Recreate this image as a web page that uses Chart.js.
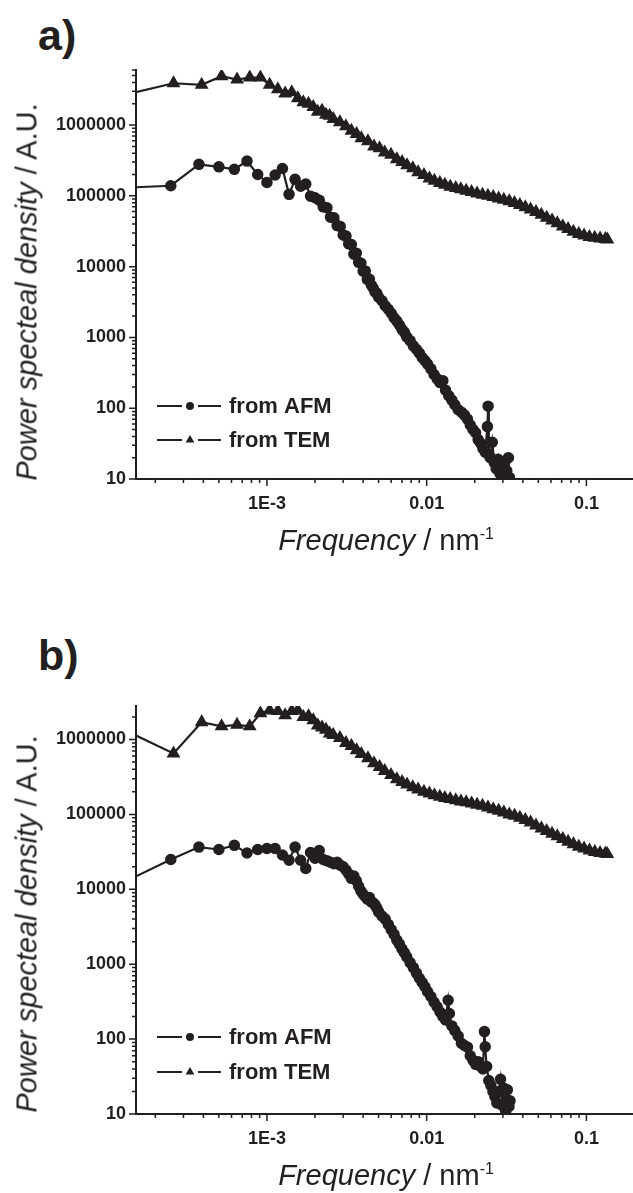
<!DOCTYPE html>
<html>
<head>
<meta charset="utf-8">
<title>Power spectral density from AFM and TEM</title>
<script src="https://cdn.jsdelivr.net/npm/chart.js"></script>
<style>
  body { margin: 0; background: #fff; overflow: hidden; font-family: 'Liberation Sans', Arial, sans-serif; color: #231f20; }
  #page { position: relative; width: 633px; height: 1193px; overflow: hidden; }
  canvas { position: absolute; left: 0; }
  .panel { position: absolute; font-weight: bold; font-size: 43px; line-height: 43px; }
  .ytitle { position: absolute; font-size: 29px; white-space: nowrap; transform: translate(-50%, -50%) rotate(-90deg); }
  .xtitle { position: absolute; font-size: 29px; white-space: nowrap; transform: translate(-50%, -50%); }
  .xtitle sup { font-size: 16px; }
</style>
</head>
<body>
<div id="page">
  <div class="panel" style="left:38px;top:14px;">a)</div>
  <canvas id="chartA" width="640" height="590" style="top:0;"></canvas>
  <div class="ytitle" style="left:27px;top:292px;"><i>Power specteal density</i> / A.U.</div>
  <div class="xtitle" style="left:386px;top:540px;"><i>Frequency</i> / nm<sup>-1</sup></div>

  <div class="panel" style="left:38px;top:634px;">b)</div>
  <canvas id="chartB" width="640" height="593" style="top:600px;"></canvas>
  <div class="ytitle" style="left:27px;top:924px;"><i>Power specteal density</i> / A.U.</div>
  <div class="xtitle" style="left:386px;top:1175px;"><i>Frequency</i> / nm<sup>-1</sup></div>
</div>

<script>
const ink = '#231f20';

// tick labels
const xTickValues = [1e-3, 0.01, 0.1];
const xTickText = ['1E-3', '0.01', '0.1'];
const yTickValues = [10, 100, 1000, 10000, 100000, 1000000];
const yTickText = ['10', '100', '1000', '10000', '100000', '1000000'];

// TEM frequencies (nm^-1), same for both panels
const temFreq = [
  1.3e-4, 2.6e-4, 3.9e-4, 5.2e-4, 6.5e-4, 7.8e-4, 9.1e-4, 1.04e-3, 1.17e-3, 1.30e-3,
  1.43e-3, 1.56e-3, 1.69e-3, 1.82e-3, 1.95e-3, 2.08e-3, 2.21e-3, 2.34e-3, 2.47e-3, 2.60e-3,
  2.86e-3, 3.12e-3, 3.38e-3, 3.64e-3, 3.90e-3, 4.29e-3, 4.68e-3, 5.07e-3, 5.46e-3, 5.98e-3,
  6.50e-3, 7.02e-3, 7.54e-3, 8.19e-3, 8.84e-3, 9.62e-3, 1.040e-2, 1.118e-2, 1.209e-2, 1.300e-2,
  1.404e-2, 1.521e-2, 1.638e-2, 1.768e-2, 1.911e-2, 2.067e-2, 2.236e-2, 2.418e-2, 2.613e-2, 2.821e-2,
  3.042e-2, 3.289e-2, 3.549e-2, 3.835e-2, 4.147e-2, 4.472e-2, 4.836e-2, 5.226e-2, 5.642e-2, 6.097e-2,
  6.578e-2, 7.111e-2, 7.683e-2, 8.294e-2, 8.957e-2, 9.672e-2, 0.1045, 0.1128, 0.1218, 0.1316, 0.1352
];

// panel a
const temPsdA = [
  2.7e6, 3.9e6, 3.7e6, 4.9e6, 4.4e6, 4.7e6, 4.7e6, 3.7e6, 3.2e6, 2.8e6,
  2.9e6, 2.4e6, 2.1e6, 2.0e6, 1.8e6, 1.54e6, 1.6e6, 1.4e6, 1.35e6, 1.22e6,
  1.1e6, 9.6e5, 8.3e5, 7.5e5, 6.5e5, 5.9e5, 5.0e5, 4.7e5, 4.1e5, 3.8e5,
  3.3e5, 3.0e5, 2.7e5, 2.45e5, 2.15e5, 1.97e5, 1.76e5, 1.63e5, 1.52e5, 1.43e5,
  1.35e5, 1.29e5, 1.24e5, 1.18e5, 1.13e5, 1.08e5, 1.04e5, 1.0e5, 9.6e4, 9.2e4,
  8.8e4, 8.4e4, 7.9e4, 7.4e4, 6.9e4, 6.4e4, 5.9e4, 5.4e4, 4.9e4, 4.5e4,
  4.1e4, 3.7e4, 3.4e4, 3.1e4, 2.9e4, 2.75e4, 2.62e4, 2.55e4, 2.5e4, 2.45e4, 2.42e4
];

const afmFreqA = [
  1.25e-4, 2.5e-4, 3.75e-4, 5.0e-4, 6.25e-4, 7.5e-4, 8.75e-4, 1.0e-3, 1.125e-3, 1.25e-3,
  1.375e-3, 1.5e-3, 1.625e-3, 1.75e-3, 1.875e-3, 2.0e-3, 2.125e-3, 2.25e-3, 2.375e-3, 2.5e-3,
  2.625e-3, 2.75e-3, 2.875e-3, 3.0e-3, 3.125e-3, 3.25e-3, 3.375e-3, 3.5e-3, 3.625e-3, 3.75e-3,
  3.875e-3, 4.0e-3, 4.125e-3, 4.25e-3, 4.375e-3, 4.5e-3, 4.625e-3, 4.75e-3, 4.875e-3, 5.0e-3,
  5.25e-3, 5.5e-3, 5.75e-3, 6.0e-3, 6.25e-3, 6.5e-3, 6.75e-3, 7.0e-3, 7.25e-3, 7.5e-3,
  7.875e-3, 8.25e-3, 8.625e-3, 9.0e-3, 9.375e-3, 9.75e-3, 1.0125e-2, 1.0625e-2, 1.1125e-2, 1.1625e-2,
  1.2125e-2, 1.2625e-2, 1.3125e-2, 1.375e-2, 1.4375e-2, 1.5e-2, 1.575e-2, 1.65e-2, 1.725e-2, 1.8e-2,
  1.875e-2, 1.95e-2, 2.025e-2, 2.1e-2, 2.175e-2, 2.25e-2, 2.325e-2, 2.4e-2, 2.425e-2, 2.45e-2,
  2.5e-2, 2.575e-2, 2.65e-2, 2.725e-2, 2.8e-2, 2.875e-2, 2.95e-2, 3.025e-2, 3.1e-2, 3.175e-2,
  3.25e-2, 3.3e-2
];
const afmPsdA = [
  1.3e5, 1.39e5, 2.79e5, 2.57e5, 2.37e5, 3.1e5, 2.0e5, 1.55e5, 1.97e5, 2.44e5,
  1.05e5, 1.71e5, 1.37e5, 1.47e5, 9.9e4, 9.4e4, 8.7e4, 7.0e4, 6.8e4, 5.0e4,
  4.9e4, 3.8e4, 3.7e4, 2.8e4, 2.7e4, 2.1e4, 2.05e4, 1.5e4, 1.55e4, 1.15e4,
  1.12e4, 8.6e3, 8.7e3, 6.6e3, 6.7e3, 5.5e3, 5.0e3, 4.4e3, 4.2e3, 3.7e3,
  3.3e3, 2.8e3, 2.5e3, 2.2e3, 1.9e3, 1.7e3, 1.5e3, 1.3e3, 1.18e3, 1.02e3,
  900, 760, 680, 600, 520, 470, 420, 360, 300, 260,
  230, 245, 180, 150, 130, 112, 95, 88, 80, 70,
  58, 50, 45, 36, 32, 27, 24, 55, 107, 22,
  20, 33, 17, 14, 19, 12, 16, 11, 18, 13,
  20, 10.5
];

// panel b
const temPsdB = [
  1.32e6, 6.5e5, 1.7e6, 1.5e6, 1.57e6, 1.5e6, 2.24e6, 2.44e6, 2.4e6, 2.1e6,
  2.4e6, 2.44e6, 2.0e6, 2.05e6, 1.8e6, 1.54e6, 1.45e6, 1.35e6, 1.2e6, 1.15e6,
  1.05e6, 9.0e5, 8.2e5, 7.2e5, 6.4e5, 5.6e5, 4.8e5, 4.3e5, 3.8e5, 3.35e5,
  2.95e5, 2.7e5, 2.5e5, 2.3e5, 2.15e5, 2.0e5, 1.9e5, 1.8e5, 1.72e5, 1.65e5,
  1.6e5, 1.54e5, 1.49e5, 1.45e5, 1.4e5, 1.35e5, 1.3e5, 1.24e5, 1.17e5, 1.12e5,
  1.06e5, 1.0e5, 9.6e4, 9.0e4, 8.4e4, 7.8e4, 7.1e4, 6.5e4, 6.0e4, 5.5e4,
  5.1e4, 4.7e4, 4.3e4, 4.0e4, 3.7e4, 3.5e4, 3.3e4, 3.15e4, 3.05e4, 3.0e4, 2.95e4
];

const afmFreqB = [
  1.25e-4, 2.5e-4, 3.75e-4, 5.0e-4, 6.25e-4, 7.5e-4, 8.75e-4, 1.0e-3, 1.125e-3, 1.25e-3,
  1.375e-3, 1.5e-3, 1.625e-3, 1.75e-3, 1.875e-3, 2.0e-3, 2.125e-3, 2.25e-3, 2.375e-3, 2.5e-3,
  2.625e-3, 2.75e-3, 2.875e-3, 3.0e-3, 3.125e-3, 3.25e-3, 3.375e-3, 3.5e-3, 3.625e-3, 3.75e-3,
  3.875e-3, 4.0e-3, 4.125e-3, 4.25e-3, 4.375e-3, 4.5e-3, 4.625e-3, 4.75e-3, 4.875e-3, 5.0e-3,
  5.25e-3, 5.5e-3, 5.75e-3, 6.0e-3, 6.25e-3, 6.5e-3, 6.75e-3, 7.0e-3, 7.25e-3, 7.5e-3,
  7.875e-3, 8.25e-3, 8.625e-3, 9.0e-3, 9.375e-3, 9.75e-3, 1.0125e-2, 1.0625e-2, 1.1125e-2, 1.1625e-2,
  1.2125e-2, 1.2625e-2, 1.3125e-2, 1.3625e-2, 1.3875e-2, 1.4375e-2, 1.5e-2, 1.575e-2, 1.65e-2, 1.725e-2,
  1.8e-2, 1.875e-2, 1.95e-2, 2.025e-2, 2.1e-2, 2.175e-2, 2.25e-2, 2.3e-2, 2.325e-2, 2.375e-2,
  2.45e-2, 2.525e-2, 2.6e-2, 2.675e-2, 2.75e-2, 2.825e-2, 2.9e-2, 2.975e-2, 3.05e-2, 3.125e-2,
  3.2e-2, 3.275e-2, 3.325e-2
];
const afmPsdB = [
  1.22e4, 2.5e4, 3.66e4, 3.4e4, 3.86e4, 3.05e4, 3.4e4, 3.5e4, 3.5e4, 2.87e4,
  2.44e4, 3.66e4, 2.44e4, 1.9e4, 3.1e4, 2.6e4, 3.3e4, 2.5e4, 2.4e4, 2.3e4,
  2.2e4, 2.3e4, 2.1e4, 2.0e4, 1.8e4, 1.6e4, 1.4e4, 1.5e4, 1.3e4, 1.1e4,
  9.5e3, 8.6e3, 8.0e3, 7.4e3, 7.8e3, 6.8e3, 6.6e3, 6.2e3, 5.6e3, 5.0e3,
  4.4e3, 4.0e3, 3.4e3, 2.9e3, 2.5e3, 2.1e3, 1.85e3, 1.6e3, 1.42e3, 1.25e3,
  1.05e3, 900, 760, 650, 570, 500, 430, 370, 310, 270,
  230, 200, 180, 330, 220, 150, 130, 110, 88, 82,
  78, 60, 52, 46, 50, 43, 40, 126, 79, 43,
  28, 24, 20, 17, 14, 20, 29, 13, 22, 11,
  21, 12.6, 15
];

function toPoints(xs, ys) {
  return xs.map((x, i) => ({ x, y: ys[i] }));
}

function logTicks(min, max) {
  const out = [];
  for (let e = Math.floor(Math.log10(min)); e <= Math.ceil(Math.log10(max)); e++) {
    for (let m = 1; m < 10; m++) {
      const v = m * Math.pow(10, e);
      if (v >= min * 0.9999 && v <= max * 1.0001) out.push({ value: v, major: m === 1 });
    }
  }
  return out;
}

function labelFor(values, texts) {
  return (v) => {
    const i = values.findIndex(t => Math.abs(t - v) < t * 1e-6);
    return i >= 0 ? texts[i] : '';
  };
}

// short minor ticks, longer decade ticks, both outside the axes
const tickMarks = {
  id: 'tickMarks',
  afterDraw(chart) {
    const { ctx, chartArea, scales } = chart;
    ctx.save();
    ctx.strokeStyle = ink;
    ctx.lineWidth = 1.5;
    ctx.beginPath();
    for (const t of scales.x.ticks) {
      const p = scales.x.getPixelForValue(t.value);
      const len = t.major ? 7 : 4;
      ctx.moveTo(p, chartArea.bottom);
      ctx.lineTo(p, chartArea.bottom + len);
    }
    for (const t of scales.y.ticks) {
      const p = scales.y.getPixelForValue(t.value);
      const len = t.major ? 7 : 4;
      ctx.moveTo(chartArea.left - len, p);
      ctx.lineTo(chartArea.left, p);
    }
    ctx.stroke();
    ctx.restore();
  }
};

// legend drawn as  —●— label
const lineLegend = {
  id: 'lineLegend',
  afterDraw(chart, args, opts) {
    const ctx = chart.ctx;
    chart.data.datasets.forEach((ds, i) => {
      const y = opts.rows[i];
      const x = opts.x;
      ctx.save();
      ctx.strokeStyle = ds.borderColor;
      ctx.lineWidth = 2;
      ctx.beginPath();
      ctx.moveTo(x, y); ctx.lineTo(x + 25, y);
      ctx.moveTo(x + 41, y); ctx.lineTo(x + 64, y);
      ctx.stroke();
      ctx.fillStyle = ds.pointBackgroundColor;
      Chart.helpers.drawPoint(ctx, { pointStyle: ds.pointStyle, radius: ds.pointStyle === 'triangle' ? 5 : 4, borderWidth: 0, rotation: 0 }, x + 33, y);
      ctx.font = 'bold 22px "Liberation Sans", Arial, sans-serif';
      ctx.textBaseline = 'middle';
      ctx.fillText(ds.label, x + 72, y + 1);
      ctx.restore();
    });
  }
};

function makePanel(id, afm, tem, yMax, padTop, xBoxHeight, legendRows) {
  const tickFont = { family: "'Liberation Sans', Arial, sans-serif", weight: 'bold', size: 18 };
  return new Chart(document.getElementById(id), {
    type: 'line',
    data: {
      datasets: [
        { label: 'from AFM', data: afm, borderColor: ink, borderWidth: 2.2, pointStyle: 'circle',
          pointRadius: 5, pointBackgroundColor: ink, pointBorderColor: ink, pointBorderWidth: 1.5, clip: 0 },
        { label: 'from TEM', data: tem, borderColor: ink, borderWidth: 2.2, pointStyle: 'triangle',
          pointRadius: 6.5, pointBackgroundColor: ink, pointBorderColor: ink, pointBorderWidth: 1.5, clip: 0 }
      ]
    },
    options: {
      responsive: false,
      animation: false,
      devicePixelRatio: 1,
      layout: { padding: { top: padTop, left: 0, right: 4, bottom: 0 } },
      plugins: {
        legend: { display: false },
        tooltip: { enabled: false },
        lineLegend: { x: 157, rows: legendRows }
      },
      scales: {
        x: {
          type: 'logarithmic', min: 1.514e-4, max: 0.193,
          afterBuildTicks: (s) => { s.ticks = logTicks(s.min, s.max); },
          afterFit: (s) => { s.height = xBoxHeight; },
          grid: { display: false, drawTicks: true, tickLength: 8 },
          border: { display: true, color: ink, width: 2 },
          ticks: { autoSkip: false, maxRotation: 0, padding: 6, color: ink, font: tickFont,
                   callback: labelFor(xTickValues, xTickText) }
        },
        y: {
          type: 'logarithmic', min: 10, max: yMax,
          afterBuildTicks: (s) => { s.ticks = logTicks(s.min, s.max); },
          afterFit: (s) => { s.width = 136; },
          grid: { display: false, drawTicks: true, tickLength: 7 },
          border: { display: true, color: ink, width: 2 },
          ticks: { autoSkip: false, padding: 3, color: ink, font: tickFont,
                   callback: labelFor(yTickValues, yTickText) }
        }
      }
    },
    plugins: [tickMarks, lineLegend]
  });
}

makePanel('chartA', toPoints(afmFreqA, afmPsdA), toPoints(temFreq, temPsdA), 6e6, 70, 111, [406, 440]);
makePanel('chartB', toPoints(afmFreqB, afmPsdB), toPoints(temFreq, temPsdB), 2.8e6, 106, 79, [437, 472]);
</script>
</body>
</html>
